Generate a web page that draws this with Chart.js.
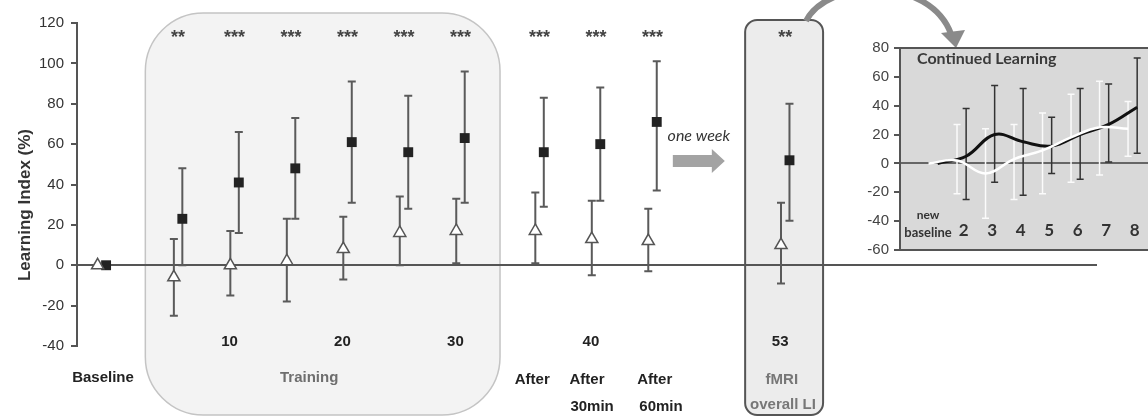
<!DOCTYPE html>
<html>
<head>
<meta charset="utf-8">
<script src="https://cdn.jsdelivr.net/npm/chart.js@4.4.0/dist/chart.umd.min.js"></script>
<style>
  html, body { margin: 0; padding: 0; background: #fff; overflow: hidden; }
  #wrap { position: relative; width: 1148px; height: 417px; overflow: hidden; }
  #main { position: absolute; left: 0; top: 0; }
  #inset { position: absolute; left: 850px; top: 30px; }
</style>
</head>
<body>
<div id="wrap">
  <canvas id="main" width="1148" height="417"></canvas>
  <canvas id="inset" width="310" height="235"></canvas>
</div>
<script>
// main panel: one slot per measurement block (linear x, 1 = first training block)
const mainSlots = [-0.35, 1, 2, 3, 4, 5, 6, 7.4, 8.4, 9.4, 11.75];
const stars     = ['', '**', '***', '***', '***', '***', '***', '***', '***', '***', '**'];
const sessions  = ['', '', '10', '', '20', '', '30', '', '40', '', '53'];

// open triangles
const triMean = [0, -6, 0, 2, 8, 16, 17, 17, 13, 12, 10];
const triHi   = [null, 13, 17, 23, 24, 34, 33, 36, 32, 28, 31];
const triLo   = [null, -25, -15, -18, -7, 0, 1, 1, -5, -3, -9];

// filled squares
const sqMean = [0, 23, 41, 48, 61, 56, 63, 56, 60, 71, 52];
const sqHi   = [null, 48, 66, 73, 91, 84, 96, 83, 88, 101, 80];
const sqLo   = [null, 0, 16, 23, 31, 28, 31, 29, 32, 37, 22];

const yTicks = { min: -40, max: 120, step: 20 };

// inset "Continued Learning"
const insetLabels = [['new', 'baseline'], '2', '3', '4', '5', '6', '7', '8'];
const insetSlots  = [1, 2, 3, 4, 5, 6, 7, 8];
const blackMean = [0, 5, 20, 15, 12, 20, 27, 39];
const blackHi   = [null, 38, 54, 52, 32, 52, 55, 73];
const blackLo   = [null, -25, -13, -22, -7, -11, 1, 7];
const whiteMean = [0, 2, -7, 3, 9, 18, 25, 24];
const whiteHi   = [null, 27, 24, 27, 35, 48, 57, 43];
const whiteLo   = [null, -21, -38, -25, -21, -13, -8, 5];

const ARIAL = '"Liberation Sans", Arial, sans-serif';
const CALIBRI = 'Lato, "Open Sans", sans-serif';

function text(ctx, s, x, y, font, color, align, base) {
  ctx.font = font;
  ctx.fillStyle = color;
  ctx.textAlign = align || 'center';
  ctx.textBaseline = base || 'middle';
  ctx.fillText(s, x, y);
}

// vertical error bars with caps, taken from dataset.errHi / errLo
const errorBars = {
  id: 'errorBars',
  beforeDatasetsDraw(chart) {
    const { ctx, scales: { y } } = chart;
    ctx.save();
    chart.data.datasets.forEach((ds, i) => {
      if (!ds.errHi) return;
      const meta = chart.getDatasetMeta(i);
      ctx.strokeStyle = ds.errColor;
      ctx.lineWidth = ds.errWidth;
      const cap = ds.errCap;
      meta.data.forEach((pt, j) => {
        if (ds.errHi[j] == null) return;
        const yh = y.getPixelForValue(ds.errHi[j]);
        const yl = y.getPixelForValue(ds.errLo[j]);
        ctx.beginPath();
        ctx.moveTo(pt.x, yh); ctx.lineTo(pt.x, yl);
        ctx.moveTo(pt.x - cap, yh); ctx.lineTo(pt.x + cap, yh);
        ctx.moveTo(pt.x - cap, yl); ctx.lineTo(pt.x + cap, yl);
        ctx.stroke();
      });
    });
    ctx.restore();
  }
};

const mainDecor = {
  id: 'mainDecor',
  beforeDraw(chart) {
    const { ctx, scales: { x } } = chart;
    ctx.save();
    // training block
    const tl = x.getPixelForValue(0.42), tr = x.getPixelForValue(6.7);
    ctx.beginPath();
    ctx.roundRect(tl, 13, tr - tl, 402, 58);
    ctx.fillStyle = '#f3f3f3';
    ctx.fill();
    ctx.strokeStyle = '#c4c4c4';
    ctx.lineWidth = 1.5;
    ctx.stroke();
    // fMRI block
    const fl = x.getPixelForValue(11.04), fr = x.getPixelForValue(12.42);
    ctx.beginPath();
    ctx.roundRect(fl, 20, fr - fl, 395, 12);
    ctx.fillStyle = '#ececec';
    ctx.fill();
    ctx.strokeStyle = '#555';
    ctx.lineWidth = 2;
    ctx.stroke();
    ctx.restore();
  },
  afterDraw(chart) {
    const { ctx, chartArea, scales: { x, y } } = chart;
    ctx.save();
    // y title
    ctx.save();
    ctx.translate(25, 205);
    ctx.rotate(-Math.PI / 2);
    text(ctx, 'Learning Index (%)', 0, 0, 'bold 17px ' + ARIAL, '#333');
    ctx.restore();

    mainSlots.forEach((s, i) => {
      const px = x.getPixelForValue(s);
      if (stars[i]) text(ctx, stars[i], px, 43, 'bold 18px ' + ARIAL, '#444', 'center', 'alphabetic');
      if (sessions[i]) text(ctx, sessions[i], x.getPixelForValue(s - 0.09), y.getPixelForValue(-38), 'bold 15px ' + ARIAL, '#222');
    });

    const r1 = chartArea.bottom + 32, r2 = chartArea.bottom + 61;
    const B = 'bold 15px ' + ARIAL;
    text(ctx, 'Baseline', x.getPixelForValue(-0.33), r1, B, '#222');
    text(ctx, 'Training', x.getPixelForValue(3.32), r1, B, '#6e6e6e');
    text(ctx, 'After', x.getPixelForValue(7.27), r1 + 2, B, '#222');
    text(ctx, 'After', x.getPixelForValue(8.24), r1 + 2, B, '#222');
    text(ctx, '30min', x.getPixelForValue(8.33), r2, B, '#222');
    text(ctx, 'After', x.getPixelForValue(9.44), r1 + 2, B, '#222');
    text(ctx, '60min', x.getPixelForValue(9.55), r2, B, '#222');
    text(ctx, 'fMRI', x.getPixelForValue(11.69), r1 + 2, B, '#777');
    text(ctx, 'overall LI', x.getPixelForValue(11.71), r2 - 2, B, '#777');

    // "one week" arrow
    const ow = x.getPixelForValue(10.22);
    text(ctx, 'one week', ow, 136, 'italic 16px ' + CALIBRI, '#333');
    ctx.fillStyle = '#a3a3a3';
    ctx.beginPath();
    ctx.moveTo(ow - 26, 155); ctx.lineTo(ow + 13, 155); ctx.lineTo(ow + 13, 149);
    ctx.lineTo(ow + 26, 161); ctx.lineTo(ow + 13, 173); ctx.lineTo(ow + 13, 167);
    ctx.lineTo(ow - 26, 167); ctx.closePath();
    ctx.fill();

    // curved arrow from fMRI box to inset
    ctx.strokeStyle = '#8a8a8a';
    ctx.fillStyle = '#8a8a8a';
    ctx.lineWidth = 6;
    ctx.beginPath();
    ctx.moveTo(806, 21);
    ctx.bezierCurveTo(828, -22, 930, -24, 951, 34);
    ctx.stroke();
    ctx.beginPath();
    ctx.moveTo(941, 33); ctx.lineTo(965, 30); ctx.lineTo(956, 48); ctx.closePath();
    ctx.fill();
    ctx.restore();
  }
};

new Chart(document.getElementById('main'), {
  type: 'scatter',
  data: {
    datasets: [
      {
        data: mainSlots.map((s, i) => ({ x: s - 0.075, y: triMean[i] })),
        pointStyle: 'triangle', pointRadius: 7,
        pointBackgroundColor: '#fff', pointBorderColor: '#555', pointBorderWidth: 1.5,
        errHi: triHi, errLo: triLo, errColor: '#5a5a5a', errWidth: 2, errCap: 4
      },
      {
        data: mainSlots.map((s, i) => ({ x: s + 0.075, y: sqMean[i] })),
        pointStyle: 'rect', pointRadius: 7,
        pointBackgroundColor: '#222', pointBorderColor: '#222', pointBorderWidth: 0,
        errHi: sqHi, errLo: sqLo, errColor: '#5a5a5a', errWidth: 2, errCap: 4
      }
    ]
  },
  options: {
    responsive: false,
    animation: false,
    layout: { padding: { top: 23, right: 51, bottom: 71, left: 0 } },
    plugins: { legend: { display: false }, tooltip: { enabled: false } },
    scales: {
      x: { type: 'linear', display: false, min: -0.79, max: 17.27 },
      y: {
        min: yTicks.min, max: yTicks.max,
        afterFit: s => { s.width = 77; },
        ticks: { stepSize: yTicks.step, color: '#333', padding: 7, font: { family: ARIAL, size: 15 } },
        grid: {
          color: c => (c.tick && c.tick.value === 0 ? '#555' : 'rgba(0,0,0,0)'),
          lineWidth: 2, tickColor: '#555', tickLength: 6, tickWidth: 2
        },
        border: { color: '#555', width: 2 }
      }
    }
  },
  plugins: [mainDecor, errorBars]
});

const insetDecor = {
  id: 'insetDecor',
  beforeDraw(chart) {
    const { ctx, chartArea: a } = chart;
    ctx.save();
    ctx.fillStyle = '#d9d9d9';
    ctx.fillRect(a.left, a.top, a.right - a.left, a.bottom - a.top);
    ctx.restore();
  },
  afterDraw(chart) {
    const { ctx, chartArea: a, scales: { x } } = chart;
    ctx.save();
    ctx.strokeStyle = '#555';
    ctx.lineWidth = 2;
    ctx.strokeRect(a.left, a.top, a.right - a.left, a.bottom - a.top);
    text(ctx, 'Continued Learning', a.left + 17, a.top + 11, 'bold 16px ' + CALIBRI, '#3a3a3a', 'left');
    insetLabels.forEach((l, i) => {
      const px = x.getPixelForValue(insetSlots[i]);
      if (Array.isArray(l)) {
        text(ctx, l[0], px - 5, a.bottom - 35, 'bold 12px ' + CALIBRI, '#333');
        text(ctx, l[1], px - 5, a.bottom - 17, 'bold 13px ' + CALIBRI, '#333');
      } else {
        text(ctx, l, px + 2, a.bottom - 19, 'bold 17px ' + CALIBRI, '#333');
      }
    });
    ctx.restore();
  }
};

new Chart(document.getElementById('inset'), {
  type: 'scatter',
  data: {
    datasets: [
      {
        data: insetSlots.map((s, i) => ({ x: s - 0.16, y: whiteMean[i] })),
        showLine: true, tension: 0.4, borderColor: '#fff', borderWidth: 2.5, pointRadius: 0,
        errHi: whiteHi, errLo: whiteLo, errColor: '#fbfbfb', errWidth: 1.5, errCap: 3.5
      },
      {
        data: insetSlots.map((s, i) => ({ x: s + 0.16, y: blackMean[i] })),
        showLine: true, tension: 0.4, borderColor: '#111', borderWidth: 3, pointRadius: 0,
        errHi: blackHi, errLo: blackLo, errColor: '#333', errWidth: 1.5, errCap: 3.5
      }
    ]
  },
  options: {
    responsive: false,
    animation: false,
    layout: { padding: { top: 18, right: 8, bottom: 15, left: 0 } },
    plugins: { legend: { display: false }, tooltip: { enabled: false } },
    scales: {
      x: { type: 'linear', display: false, min: -0.16, max: 8.68 },
      y: {
        min: -60, max: 80,
        afterFit: s => { s.width = 50; },
        ticks: { stepSize: 20, color: '#444', padding: 5, font: { family: ARIAL, size: 15 } },
        grid: {
          color: c => (c.tick && c.tick.value === 0 ? '#666' : 'rgba(0,0,0,0)'),
          lineWidth: 2, tickColor: '#555', tickLength: 6, tickWidth: 2
        },
        border: { color: '#555', width: 2 }
      }
    }
  },
  plugins: [insetDecor, errorBars]
});
</script>
</body>
</html>
